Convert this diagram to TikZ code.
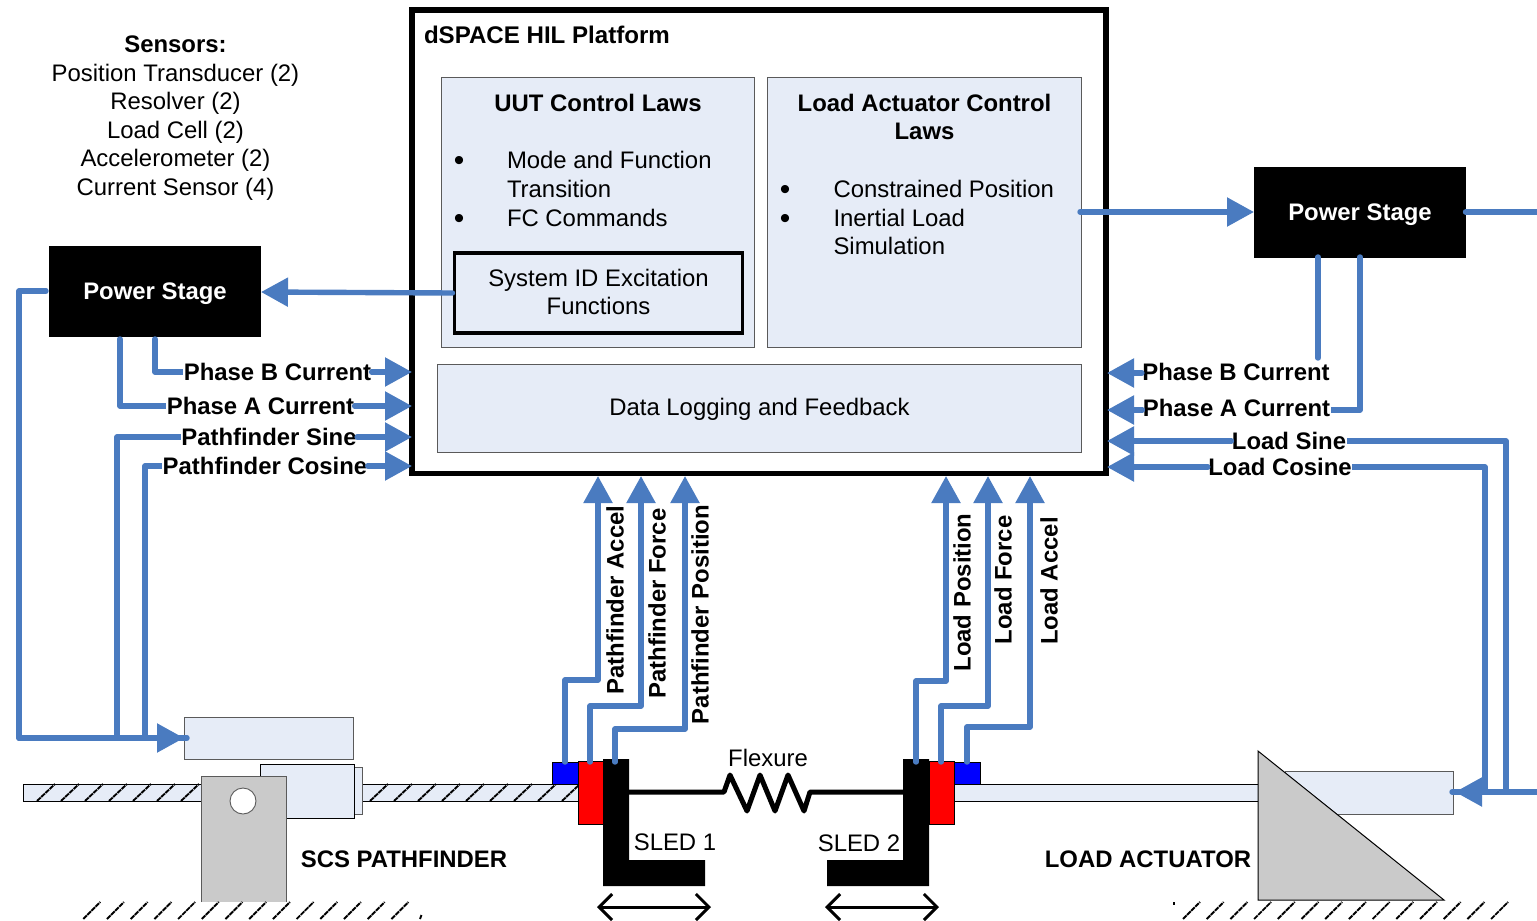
\documentclass[tikz,border=0pt]{standalone}
\usepackage{fontspec}
\setmainfont{Liberation Sans}
\usetikzlibrary{arrows.meta}
\definecolor{wireblue}{HTML}{4A7BC0}
\definecolor{panel}{HTML}{E6ECF7}
\definecolor{metal}{HTML}{CACACA}
\definecolor{rim}{HTML}{5A5A5A}
\tikzset{
  x=1pt,y=-1pt,
  every node/.style={outer sep=0pt},
  txt/.style={anchor=base,inner sep=0pt,yshift=-1.5pt,font=\fontsize{23.9}{28.6}\selectfont,align=center},
  txtl/.style={txt,anchor=base west,align=left},
  bold/.style={txt,font=\fontsize{23.9}{28.6}\selectfont\bfseries},
  bulletmark/.style={txt,font=\fontsize{30}{30}\selectfont,yshift=-2pt},
  siglabel/.style={bold,fill=white,inner xsep=0.5pt,inner ysep=0pt,text depth=5pt,text height=18pt},
  vlabel/.style={bold,rotate=90,yshift=-0.5pt,xshift=1.5pt},
  wire/.style={draw=wireblue,line width=5.4pt,line join=round,line cap=round},
  flow/.style={wire,-{Triangle[length=27pt,width=28pt,fill=wireblue]}},
  panelbox/.style={draw=rim,line width=0.9pt,fill=panel},
  stagebox/.style={fill=black,text=white,inner sep=0pt,font=\fontsize{23.9}{26}\selectfont\bfseries},
  hatchline/.style={line width=1.9pt,dash pattern=on 5pt off 0.8pt},
  travel/.style={line width=3pt,{Straight Barb[length=13pt,width=26pt,line width=3pt]}-{Straight Barb[length=13pt,width=26pt,line width=3pt]}},
}
\begin{document}
\begin{tikzpicture}
\useasboundingbox (0,0) rectangle (1537,921);
% platform
\node[draw=black,line width=5.5pt,fill=white,minimum width=694pt,minimum height=463.5pt,inner sep=0pt,anchor=north west] (platform) at (412,10) {};
\node[panelbox,minimum width=312.5pt,minimum height=269.5pt,inner sep=0pt,anchor=north west] (uut) at (441.5,77.5) {};
\node[panelbox,minimum width=313.5pt,minimum height=269.5pt,inner sep=0pt,anchor=north west] (loadlaws) at (767.5,77.5) {};
\node[panelbox,minimum width=643.5pt,minimum height=88pt,inner sep=0pt,anchor=north west] (logging) at (437.5,364) {};
\node[draw=black,line width=3.2pt,fill=panel,minimum width=288pt,minimum height=80pt,inner sep=0pt,anchor=north west] (sysid) at (454.5,253) {};
\node[txtl,font=\fontsize{24.1}{26}\selectfont\bfseries] (ptitle) at (424,42) {dSPACE HIL Platform};
\node[bold] (uuttitle) at (598,109.5) {UUT Control Laws};
\node[bulletmark] (b1) at (459,167) {•};
\node[bulletmark] (b2) at (459,225) {•};
\node[txtl] (t1) at (507,167) {Mode and Function};
\node[txtl] (t2) at (507,196) {Transition};
\node[txtl] (t3) at (507,225) {FC Commands};
\node[txt] (s1) at (598.5,285) {System ID Excitation};
\node[txt] (s2) at (598.5,313) {Functions};
\node[bold] (lt1) at (924.5,109.5) {Load Actuator Control};
\node[bold] (lt2) at (924.5,137.5) {Laws};
\node[bulletmark] (b3) at (785,196) {•};
\node[bulletmark] (b4) at (785,225) {•};
\node[txtl] (t4) at (833.5,196) {Constrained Position};
\node[txtl] (t5) at (833.5,225) {Inertial Load};
\node[txtl] (t6) at (833.5,253) {Simulation};
\node[txt] (logtext) at (759.5,414) {Data Logging and Feedback};
% sensors
\node[bold] (sens0) at (175.5,51) {Sensors:};
\node[txt] (sens1) at (175.5,80) {Position Transducer (2)};
\node[txt] (sens2) at (175.5,108) {Resolver (2)};
\node[txt] (sens3) at (175.5,137) {Load Cell (2)};
\node[txt] (sens4) at (175.5,165) {Accelerometer (2)};
\node[txt] (sens5) at (175.5,194) {Current Sensor (4)};
% power stages
\node[stagebox,minimum width=212pt,minimum height=91pt,anchor=north west] (psl) at (49,246) {};
\node[stagebox,text height=0pt,anchor=base,yshift=-1.5pt] (psltxt) at (155,297.5) {Power Stage};
\node[stagebox,minimum width=212pt,minimum height=91pt,anchor=north west] (psr) at (1254,167) {};
\node[stagebox,text height=0pt,anchor=base,yshift=-1.5pt] (psrtxt) at (1360,219) {Power Stage};
% mechanism left
\node[panelbox,minimum width=169pt,minimum height=42pt,inner sep=0pt,anchor=north west] (cyl) at (184,717) {};
\draw[black,line width=1pt,fill=panel] (23,784) rectangle (201,801);
\draw[black,line width=1pt,fill=panel] (362,784) rectangle (578,801);
\foreach \k in {0,...,6} \draw[hatchline] ({37+24*\k},801) -- ++(18,-17);
\foreach \k in {0,...,8} \draw[hatchline] ({370+24*\k},801) -- ++(18,-17);
\node[panelbox,minimum width=8pt,minimum height=47pt,inner sep=0pt,anchor=north west] (nut2) at (354,767) {};
\draw[black,line width=1pt,fill=panel] (260,764) rectangle (354,818);
\fill[metal] (201,776) rectangle (286,902);
\draw[rim,line width=1pt] (201,902) -- (201,776) -- (286,776) -- (286,902);
\node[circle,draw=rim,line width=0.9pt,fill=white,minimum size=26pt,inner sep=0pt] (pivot) at (243,801) {};
\foreach \k in {0,...,13} \draw[hatchline] ({83.3+23.7*\k},919) -- ++(17,-17);
\draw[line width=1.9pt] (420,919) -- (421.5,915);
% mechanism right
\draw[rim,line width=1pt,fill=panel] (1285,771) rectangle (1453,814);
\draw[black,line width=1pt,fill=panel] (954,784) rectangle (1258,801);
\draw[black,line width=1pt,fill=metal,line join=miter] (1258,751) -- (1444,900) -- (1258,900) -- cycle;
\foreach \k in {0,...,13} \draw[hatchline] ({1183+23.7*\k},919) -- ++(17,-17);
\draw[line width=1.9pt] (1174,902) -- (1174,905);
% sleds
\draw[black,line width=1pt,fill=blue] (552,762) rectangle (578,784);
\draw[black,line width=1pt,fill=red] (578,761) rectangle (603,824);
\fill[black] (603,759) -- (629,759) -- (629,860) -- (705,860) -- (705,886) -- (603,886) -- cycle;
\draw[black,line width=1pt,fill=blue] (954,762) rectangle (980,784);
\draw[black,line width=1pt,fill=red] (929,761) rectangle (954,824);
\fill[black] (903,759) -- (929,759) -- (929,886) -- (827,886) -- (827,860) -- (903,860) -- cycle;
\draw[black,line width=5pt,line join=round,line cap=round] (629,792) -- (724,792) -- (730,775) -- (747,811) -- (760,775) -- (775,811) -- (788,775) -- (804,811) -- (810,792) -- (903,792);
\node[txt] (flex) at (768,765) {Flexure};
\node[txt] (sled1) at (675,848.5) {SLED 1};
\node[txt] (sled2) at (859,849.5) {SLED 2};
\node[bold] (scs) at (404,865.5) {SCS PATHFINDER};
\node[bold] (la) at (1148,865.5) {LOAD ACTUATOR};
\coordinate (tl1) at (597,907); \coordinate (tl2) at (711,907);
\coordinate (tr1) at (825,907); \coordinate (tr2) at (939,907);
\draw[travel] (tl1) -- (tl2);
\draw[travel] (tr1) -- (tr2);
% ports
\coordinate (inPB) at (412,372); \coordinate (inPA) at (412,406);
\coordinate (inPS) at (412,437); \coordinate (inPC) at (412,466);
\coordinate (inRB) at (1107,373); \coordinate (inRA) at (1107,410);
\coordinate (inLS) at (1107,441); \coordinate (inLC) at (1107,467);
\coordinate (cylin) at (184,738); \coordinate (cylend) at (187,738);
\coordinate (act) at (1455,792); \coordinate (actend) at (1452,792); \coordinate (actneck) at (1490,792);
\coordinate (rightedge) at (1540,792);
\coordinate (pl) at (19,291);
% left signal labels and wires
\draw[flow] ([xshift=-2pt]sysid.west |- 0,293) -- (psl.east |- 0,292);
\draw[wire] ([xshift=-3pt]psl.west |- 0,291) -- (pl) -- (pl |- cylin) -- (cylend);
\draw[flow] (pl |- cylin) -- (cylin);
\draw[wire] (155,339) -- (155,372) -- (190,372);
\draw[wire] (120,339) -- (120,406) -- (173,406);
\draw[wire] (117,738) -- (117,437) -- (188,437);
\draw[wire] (145,738) -- (145,466) -- (169,466);
\node[siglabel] (pbL) at (277.5,379) {Phase B Current};
\node[siglabel] (paL) at (260.5,413) {Phase A Current};
\node[siglabel] (psL) at (269,444) {Pathfinder Sine};
\node[siglabel] (pcL) at (265,473) {Pathfinder Cosine};
\draw[flow] (pbL.east |- inPB) -- (inPB);
\draw[flow] (paL.east |- inPA) -- (inPA);
\draw[flow] (psL.east |- inPS) -- (inPS);
\draw[flow] (pcL.east |- inPC) -- (inPC);
% right signal labels and wires
\coordinate (rf) at (1080,212);
\draw[flow] (rf) -- (psr.west |- rf);
\draw[wire] (1465.5,212) -- (1540,212);
\draw[wire] (1318,257) -- (1318,358);
\node[siglabel] (pbR) at (1236,379) {Phase B Current};
\draw[flow] (pbR.west |- inRB) -- (inRB);
\draw[wire] (1360,257) -- (1360,410) -- (1325,410);
\node[siglabel] (paR) at (1236.5,415) {Phase A Current};
\draw[flow] (paR.west |- inRA) -- (inRA);
\draw[wire] (1506,792) -- (1506,441) -- (1340,441);
\node[siglabel] (lsR) at (1289,447.5) {Load Sine};
\draw[flow] (lsR.west |- inLS) -- (inLS);
\draw[wire] (1485,792) -- (1485,467) -- (1346,467);
\node[siglabel] (lcR) at (1280,474) {Load Cosine};
\draw[flow] (lcR.west |- inLC) -- (inLC);
\draw[wire] (rightedge) -- (actend);
\draw[flow] (actneck) -- (act);
% vertical sensor wires
\coordinate (a1) at (598,476); \coordinate (a2) at (641,476); \coordinate (a3) at (685,476);
\coordinate (a4) at (946,476); \coordinate (a5) at (988,476); \coordinate (a6) at (1030,476);
\draw[flow] (565,762) -- (565,680) -- (598,680) -- (a1);
\draw[flow] (590,762) -- (590,706) -- (641,706) -- (a2);
\draw[flow] (615,762) -- (615,729) -- (685,729) -- (a3);
\draw[flow] (916,762) -- (916,681) -- (946,681) -- (a4);
\draw[flow] (941,762) -- (941,706) -- (988,706) -- (a5);
\draw[flow] (967,762) -- (967,727) -- (1030,727) -- (a6);
\node[vlabel] (v1) at (623,600) {Pathfinder Accel};
\node[vlabel] (v2) at (665,603.5) {Pathfinder Force};
\node[vlabel] (v3) at (708,614.5) {Pathfinder Position};
\node[vlabel] (v4) at (970,592.5) {Load Position};
\node[vlabel] (v5) at (1011,580) {Load Force};
\node[vlabel] (v6) at (1057,581) {Load Accel};
\end{tikzpicture}
\end{document}
